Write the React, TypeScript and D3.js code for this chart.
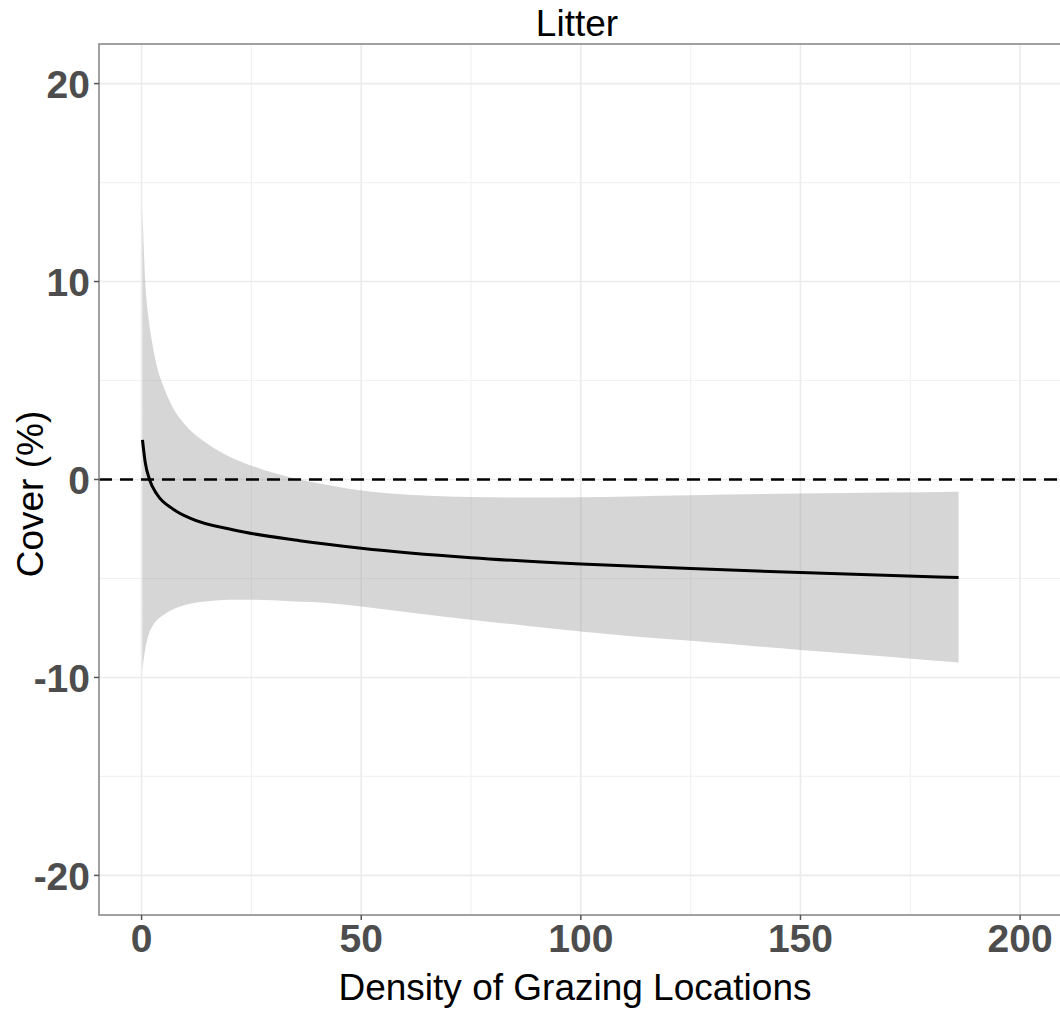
import React from "react";
import * as d3 from "d3";

const title = "Litter";
const xLabel = "Density of Grazing Locations";
const yLabel = "Cover (%)";

const xMajorTicks = [0, 50, 100, 150, 200];
const xMinorTicks = [25, 75, 125, 175];
const yMajorTicks = [-20, -10, 0, 10, 20];
const yMinorTicks = [-15, -5, 5, 15];

// ribbon (confidence band)
const bandX = [0.2, 0.8, 1.5, 2.5, 3.5, 5, 7.2, 9, 11, 15, 20, 25, 34, 43, 50, 62, 75, 88, 100, 111, 125, 150, 170, 186];
const bandUpper = [13.6, 10.1, 8.3, 6.8, 5.7, 4.7, 3.6, 3.0, 2.5, 1.8, 1.15, 0.7, 0.1, -0.3, -0.55, -0.78, -0.88, -0.91, -0.9, -0.86, -0.8, -0.71, -0.66, -0.62];
const bandLower = [-9.6, -8.6, -7.9, -7.4, -7.1, -6.84, -6.55, -6.4, -6.28, -6.15, -6.08, -6.08, -6.15, -6.25, -6.41, -6.75, -7.09, -7.4, -7.68, -7.9, -8.15, -8.61, -8.95, -9.25];

// fitted line
const lineX = [0.2, 0.8, 1.8, 3.5, 7.2, 11, 21, 36, 50, 75, 100, 125, 150, 186];
const lineY = [2.0, 0.9, 0.0, -0.75, -1.5, -1.95, -2.55, -3.09, -3.47, -3.95, -4.27, -4.5, -4.7, -4.95];

const W = 1060;
const H = 1011;
const P = { left: 99, right: 1064, top: 44, bottom: 915 };

export default function App() {
  const x = d3.scaleLinear().domain([-9.7, 210]).range([P.left, P.right]);
  const y = d3.scaleLinear().domain([-22, 22]).range([P.bottom, P.top]);

  const band = bandX.map((v, i) => ({ x: v, lo: bandLower[i], hi: bandUpper[i] }));
  const area = d3
    .area<{ x: number; lo: number; hi: number }>()
    .x((d) => x(d.x))
    .y0((d) => y(d.lo))
    .y1((d) => y(d.hi))
    .curve(d3.curveMonotoneX);
  const linePts = lineX.map((v, i) => [v, lineY[i]] as [number, number]);
  const line = d3
    .line<[number, number]>()
    .x((d) => x(d[0]))
    .y((d) => y(d[1]))
    .curve(d3.curveMonotoneX);

  const tickFont = "'Liberation Sans', Arial, sans-serif";

  return (
    <svg
      width={W}
      height={H}
      style={{ position: "absolute", left: 0, top: 0, background: "#fff" }}
      fontFamily={tickFont}
    >
      <defs>
        <clipPath id="panel">
          <rect x={P.left} y={P.top} width={P.right - P.left} height={P.bottom - P.top} />
        </clipPath>
      </defs>
      <rect x={0} y={0} width={W} height={H} fill="#fff" />
      <g clipPath="url(#panel)">
        {xMinorTicks.map((t) => (
          <line key={"xm" + t} x1={x(t)} x2={x(t)} y1={P.top} y2={P.bottom} stroke="#f2f2f2" strokeWidth={1.2} />
        ))}
        {yMinorTicks.map((t) => (
          <line key={"ym" + t} x1={P.left} x2={P.right} y1={y(t)} y2={y(t)} stroke="#f2f2f2" strokeWidth={1.2} />
        ))}
        {xMajorTicks.map((t) => (
          <line key={"xM" + t} x1={x(t)} x2={x(t)} y1={P.top} y2={P.bottom} stroke="#ebebeb" strokeWidth={1.6} />
        ))}
        {yMajorTicks.map((t) => (
          <line key={"yM" + t} x1={P.left} x2={P.right} y1={y(t)} y2={y(t)} stroke="#ebebeb" strokeWidth={1.6} />
        ))}
        <path d={area(band) || ""} fill="#999999" fillOpacity={0.4} />
        <line x1={P.left} x2={P.right} y1={y(0)} y2={y(0)} stroke="#000" strokeWidth={2.6} strokeDasharray="13 8" />
        <path d={line(linePts) || ""} fill="none" stroke="#000" strokeWidth={3} />
      </g>
      <rect
        x={P.left}
        y={P.top}
        width={P.right - P.left}
        height={P.bottom - P.top}
        fill="none"
        stroke="#8a8a8a"
        strokeWidth={1.6}
      />
      {/* y ticks */}
      {yMajorTicks.map((t) => (
        <g key={"yt" + t}>
          <line x1={P.left - 5} x2={P.left} y1={y(t)} y2={y(t)} stroke="#555" strokeWidth={1.5} />
          <text
            x={P.left - 9}
            y={y(t) + 14.5}
            textAnchor="end"
            fontSize={39}
            fontWeight="bold"
            fill="#4d4d4d"
          >
            {t}
          </text>
        </g>
      ))}
      {/* x ticks */}
      {xMajorTicks.map((t) => (
        <g key={"xt" + t}>
          <line x1={x(t)} x2={x(t)} y1={P.bottom} y2={P.bottom + 5} stroke="#555" strokeWidth={1.5} />
          <text x={x(t)} y={952} textAnchor="middle" fontSize={39} fontWeight="bold" fill="#4d4d4d">
            {t}
          </text>
        </g>
      ))}
      <text x={577} y={36} textAnchor="middle" fontSize={37} fill="#000">
        {title}
      </text>
      <text x={575} y={1000} textAnchor="middle" fontSize={37} fill="#000">
        {xLabel}
      </text>
      <text
        transform={`translate(43, 494) rotate(-90)`}
        textAnchor="middle"
        fontSize={37}
        fill="#000"
      >
        {yLabel}
      </text>
    </svg>
  );
}
